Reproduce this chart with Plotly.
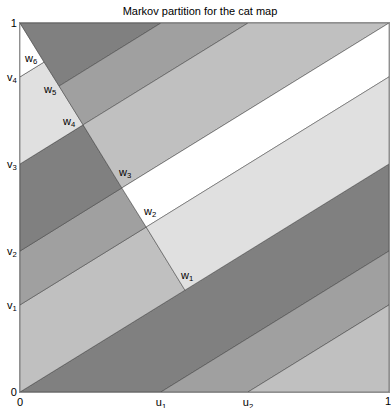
import plotly.graph_objects as go

# Values
u_vals = [0.382, 0.618]                    # u1, u2 on the bottom edge
v_vals = [0.236, 0.382, 0.618, 0.854]      # v1..v4 on the left edge
top_hits = [0.382, 0.618]                  # unstable lines meeting the top edge
right_hits = [0.236, 0.382, 0.618, 0.854]  # unstable lines meeting the right edge
w_x = [0.447, 0.342, 0.276, 0.171, 0.106, 0.065]   # w1..w6
w_y = [0.276, 0.447, 0.553, 0.724, 0.829, 0.894]

x_tick_vals = [0, u_vals[0], u_vals[1]]
x_tick_text = ["0", "u<sub>1</sub>", "u<sub>2</sub>"]
x_end_label = "1"
y_tick_vals = [0, v_vals[0], v_vals[1], v_vals[2], v_vals[3], 1]
y_tick_text = ["0", "v<sub>1</sub>", "v<sub>2</sub>", "v<sub>3</sub>", "v<sub>4</sub>", "1"]

DARK, MED, LIGHT, PALE, WHITE = "#808080", "#a0a0a0", "#c0c0c0", "#e0e0e0", "#ffffff"

W = [(w_x[i], w_y[i]) for i in range(6)]
u1, u2 = u_vals
v1, v2, v3, v4 = v_vals
t1, t2 = top_hits
r1, r2, r3, r4 = right_hits

regions = [
    (DARK,  [(0, 0), (1, r3), (1, r2), (u1, 0)]),
    (MED,   [(u1, 0), (1, r2), (1, r1), (u2, 0)]),
    (LIGHT, [(u2, 0), (1, r1), (1, 0)]),
    (LIGHT, [(0, 0), W[0], W[1], (0, v1)]),
    (MED,   [(0, v1), W[1], W[2], (0, v2)]),
    (DARK,  [(0, v2), W[2], W[3], (0, v3)]),
    (PALE,  [(0, v3), W[3], W[4], W[5], (0, v4)]),
    (WHITE, [(0, v4), W[5], (0, 1)]),
    (DARK,  [(0, 1), (t1, 1), W[4]]),
    (MED,   [W[4], (t1, 1), (t2, 1), W[3]]),
    (LIGHT, [W[3], (t2, 1), (1, 1), W[2]]),
    (WHITE, [W[2], (1, 1), (1, r4), W[1]]),
    (PALE,  [W[1], (1, r4), (1, r3), W[0]]),
]

fig = go.Figure()
for color, pts in regions:
    xs = [p[0] for p in pts] + [pts[0][0]]
    ys = [p[1] for p in pts] + [pts[0][1]]
    fig.add_trace(go.Scatter(x=xs, y=ys, mode="lines", fill="toself",
                             fillcolor=color, line=dict(color="#3a3a3a", width=0.5),
                             hoverinfo="skip", showlegend=False))

font_family = "Liberation Sans, Arial, Helvetica, sans-serif"
offsets = [(2, 14), (3, 15), (3, 15), (-14, 3), (-10, -4), (-13, 3)]
for i in range(6):
    fig.add_annotation(x=w_x[i], y=w_y[i], text=f"w<sub>{i+1}</sub>", showarrow=False,
                       xshift=offsets[i][0], yshift=offsets[i][1],
                       font=dict(size=11, color="#000000", family=font_family))

# right-end x tick label (kept as an annotation so it is not dropped at the edge)
fig.add_annotation(x=1, y=0, xref="x", yref="y", text=x_end_label, showarrow=False,
                   xanchor="center", yanchor="top", xshift=-1, yshift=-1,
                   font=dict(size=11, color="#000000", family=font_family))

fig.update_layout(
    width=391, height=408,
    margin=dict(l=20, r=2, t=23, b=16, autoexpand=False),
    plot_bgcolor="white", paper_bgcolor="white",
    title=dict(text="Markov partition for the cat map", x=200/391, xref="container",
               xanchor="center", y=1 - 11/408, yref="container", yanchor="middle",
               automargin=False,
               font=dict(size=11, color="#000000", family=font_family)),
    font=dict(family=font_family, size=11, color="#000000"),
)
fig.update_xaxes(range=[0, 1], showgrid=False, zeroline=False, ticks="", ticklabelstandoff=0,
                 tickvals=x_tick_vals, ticktext=x_tick_text, automargin=False,
                 showline=True, mirror=True, linecolor="#909090", linewidth=1,
                 tickfont=dict(size=11, color="#000000"))
fig.update_yaxes(range=[0, 1], showgrid=False, zeroline=False, ticks="",
                 tickvals=y_tick_vals, ticktext=y_tick_text, automargin=False,
                 showline=True, mirror=True, linecolor="#909090", linewidth=1,
                 tickfont=dict(size=11, color="#000000"))

post = ("document.body.style.margin='0';document.body.style.padding='0';"
        "document.body.style.overflow='hidden';"
        "Plotly.relayout('{plot_id}', {width: 391, height: 408});")
fig.write_html("out.html", config={"responsive": False, "displayModeBar": False},
               post_script=post)
